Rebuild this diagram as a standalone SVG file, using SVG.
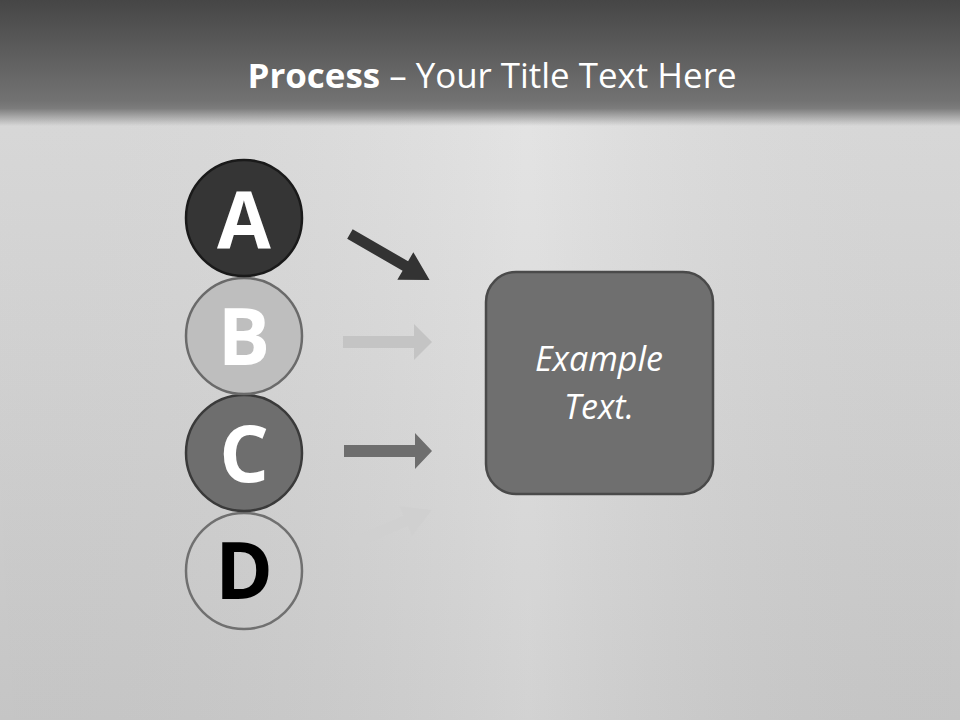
<svg xmlns="http://www.w3.org/2000/svg" width="960" height="720" viewBox="0 0 960 720">
<defs>
<linearGradient id="bg" x1="0" y1="0" x2="0" y2="1">
<stop offset="0" stop-color="#e4e4e4"/>
<stop offset="0.5" stop-color="#d9d9d9"/>
<stop offset="1" stop-color="#cdcdcd"/>
</linearGradient>
<linearGradient id="bgh" x1="0" y1="0" x2="1" y2="0">
<stop offset="0" stop-color="#000" stop-opacity="0.04"/>
<stop offset="0.55" stop-color="#fff" stop-opacity="0.1"/>
<stop offset="1" stop-color="#000" stop-opacity="0.04"/>
</linearGradient>
<linearGradient id="hdr" x1="0" y1="0" x2="0" y2="1">
<stop offset="0" stop-color="#464646"/>
<stop offset="0.8" stop-color="#727272"/>
<stop offset="0.86" stop-color="#7c7c7c"/>
<stop offset="1" stop-color="#7c7c7c" stop-opacity="0"/>
</linearGradient>
<style>
.title{font-family:"Open Sans","Liberation Sans",sans-serif;font-size:34px;fill:#ffffff}
.letter{font-family:"Open Sans","Liberation Sans",sans-serif;font-weight:bold;font-size:78px;text-anchor:middle}
.body{font-family:"Open Sans","Liberation Sans",sans-serif;font-style:italic;font-size:34px;fill:#ffffff;text-anchor:middle}
</style>
</defs>
<rect x="0" y="0" width="960" height="720" fill="url(#bg)"/>
<rect x="0" y="0" width="960" height="720" fill="url(#bgh)"/>
<rect x="0" y="0" width="960" height="126" fill="url(#hdr)"/>
<text class="title" x="492" y="88" text-anchor="middle" textLength="489" lengthAdjust="spacingAndGlyphs"><tspan font-weight="bold">Process</tspan> – Your Title Text Here</text>

<g id="connectors">
<polygon points="-74,-5.5 -10,-5.5 -10,-16 18,0 -10,16 -10,5.5 -74,5.5" fill="#333333" transform="translate(414,271) rotate(30)"/>
<polygon points="343,336 414,336 414,324 432,342 414,360 414,348 343,348" fill="#c4c4c4"/>
<polygon points="344,445 415,445 415,433 432,451 415,469 415,457 344,457" fill="#6e6e6e"/>
<polygon points="-71,-5.5 -10,-5.5 -10,-16 18,0 -10,16 -10,5.5 -71,5.5" fill="#d0d0d0" transform="translate(415,517) rotate(-23)"/>
</g>

<g id="nodeD">
<circle cx="244" cy="571" r="58" fill="none" stroke="#707070" stroke-width="2.5"/>
<text class="letter" x="244" y="599" fill="#000000">D</text>
</g>
<g id="nodeC">
<circle cx="244" cy="453" r="58" fill="#6e6e6e" stroke="#3a3a3a" stroke-width="2.5"/>
<text class="letter" x="244" y="482" fill="#ffffff">C</text>
</g>
<g id="nodeB">
<circle cx="244" cy="336" r="58" fill="#bebebe" stroke="#6a6a6a" stroke-width="2.5"/>
<text class="letter" x="244" y="365" fill="#ffffff">B</text>
</g>
<g id="nodeA">
<circle cx="244" cy="218" r="58" fill="#353535" stroke="#1a1a1a" stroke-width="2.5"/>
<text class="letter" x="244" y="248" fill="#ffffff">A</text>
</g>

<g id="box">
<rect x="486" y="272" width="227" height="222" rx="30" fill="#6f6f6f" stroke="#4a4a4a" stroke-width="2.5"/>
<text class="body" x="599" y="371">Example</text>
<text class="body" x="599" y="419">Text.</text>
</g>
</svg>
